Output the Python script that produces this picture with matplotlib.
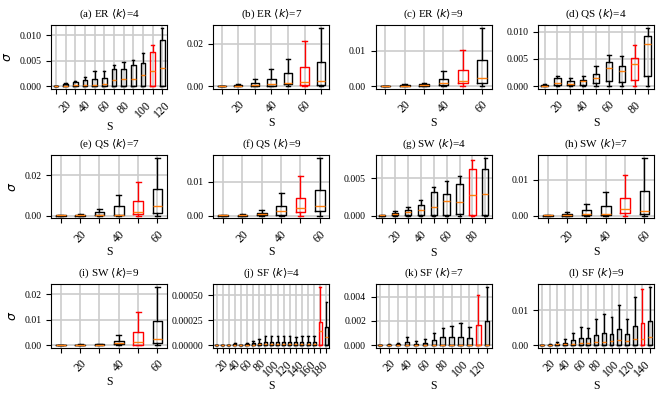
import matplotlib.pyplot as plt

plt.rcParams['font.family'] = ['Liberation Serif', 'DejaVu Serif']
plt.rcParams['mathtext.fontset'] = 'dejavusans'

# network sizes S for each panel
S_a = [10, 20, 30, 40, 50, 60, 70, 80, 90, 100, 110, 120]
S_b = [10, 20, 30, 40, 50, 60, 70]
S_c = [10, 20, 30, 40, 50, 60]
S_d = [10, 20, 30, 40, 50, 60, 70, 80, 90]
S_e = [10, 20, 30, 40, 50, 60]
S_f = [10, 20, 30, 40, 50, 60]
S_g = [10, 20, 30, 40, 50, 60, 70, 80, 90]
S_h = [10, 20, 30, 40, 50, 60]
S_i = [10, 20, 30, 40, 50, 60]
S_j = [10, 20, 30, 40, 50, 60, 70, 80, 90, 100, 110, 120, 130, 140, 150, 160, 170, 180, 190]
S_k = [10, 20, 30, 40, 50, 60, 70, 80, 90, 100, 110, 120, 130]
S_l = [10, 20, 30, 40, 50, 60, 70, 80, 90, 100, 110, 120, 130, 140, 150]

# (a) ER <k>=4
q1_a = [0, 0, 0, 0, 0, 0, 0, 0, 0, 0, 0, 0]
med_a = [0.00002, 0.0001, 0.0002, 0.0002, 0.0003, 0.0004, 0.0011, 0.0013, 0.0014, 0.0021, 0.0029, 0.0036]
q3_a = [0.00005, 0.0004, 0.0008, 0.0011, 0.0014, 0.0016, 0.0034, 0.0034, 0.0041, 0.0045, 0.0067, 0.0091]
hi_a = [0.0001, 0.0005, 0.001, 0.0018, 0.0029, 0.003, 0.0042, 0.0048, 0.0052, 0.0065, 0.008, 0.0114]

# (b) ER <k>=7
q1_b = [0, 0, 0.0001, 0.0002, 0.0008, 0.0006, 0.0005]
med_b = [0.00002, 0.0002, 0.0005, 0.0008, 0.0016, 0.0019, 0.0025]
q3_b = [0.0001, 0.0003, 0.0016, 0.0034, 0.0059, 0.0091, 0.0114]
hi_b = [0.0002, 0.001, 0.0034, 0.0081, 0.0128, 0.0214, 0.0273]

# (c) ER <k>=9
q1_c = [0, 0, 0.0001, 0.0002, 0.0008, 0.0008]
med_c = [0.00002, 0.0001, 0.0003, 0.0008, 0.0015, 0.0024]
q3_c = [0.00005, 0.0002, 0.0005, 0.0019, 0.0047, 0.0073]
hi_c = [0.0001, 0.0006, 0.0008, 0.0043, 0.0103, 0.0165]

# (d) QS <k>=4
q1_d = [0, 0.0002, 0.0002, 0.0002, 0.0005, 0.001, 0.0008, 0.0012, 0.0018]
med_d = [0.00005, 0.0006, 0.0004, 0.001, 0.0015, 0.0033, 0.0028, 0.004, 0.0078]
q3_d = [0.0001, 0.0015, 0.0009, 0.0012, 0.0023, 0.0044, 0.0037, 0.0052, 0.0093]
hi_d = [0.0003, 0.0018, 0.0015, 0.0018, 0.0037, 0.0057, 0.0056, 0.0075, 0.0107]

# (e) QS <k>=7
q1_e = [0, 0, 0.0001, 0.0001, 0.0007, 0.0012]
med_e = [0.00002, 0.0002, 0.0005, 0.0003, 0.0018, 0.0048]
q3_e = [0.0001, 0.0005, 0.0017, 0.0046, 0.0074, 0.0132]
hi_e = [0.0002, 0.001, 0.0033, 0.0101, 0.0165, 0.0289]

# (f) QS <k>=9
q1_f = [0, 0, 0.0001, 0.0003, 0.0009, 0.0013]
med_f = [0.00002, 0.0002, 0.0004, 0.0012, 0.0022, 0.0027]
q3_f = [0.00005, 0.0003, 0.0007, 0.0029, 0.0052, 0.0076]
hi_f = [0.0001, 0.0006, 0.0017, 0.0067, 0.0117, 0.0172]

# (g) SW <k>=4
q1_g = [0, 0.00005, 0.0001, 0.0001, 0.0001, 0.0001, 0.0002, 0.0001, 0.0001]
med_g = [0.00001, 0.0002, 0.0005, 0.0008, 0.0011, 0.0019, 0.0018, 0.0028, 0.0029]
q3_g = [0.00002, 0.0003, 0.0007, 0.0014, 0.0031, 0.0029, 0.0043, 0.0062, 0.0062]
hi_g = [0.00005, 0.0006, 0.0011, 0.0021, 0.0038, 0.0047, 0.0053, 0.0075, 0.0078]

# (h) SW <k>=7
q1_h = [0, 0, 0.0001, 0.0001, 0.0008, 0.0004]
med_h = [0.00002, 0.0002, 0.0003, 0.0005, 0.0018, 0.0014]
q3_h = [0.00005, 0.0004, 0.0015, 0.0028, 0.005, 0.0069]
hi_h = [0.0001, 0.0009, 0.0031, 0.0067, 0.0114, 0.0163]

# (i) SW <k>=9
q1_i = [0, 0, 0, 0.0003, 0.0001, 0.0008]
med_i = [0.00002, 0.0001, 0.0002, 0.0007, 0.0012, 0.0025]
q3_i = [0.00005, 0.0002, 0.0003, 0.0017, 0.005, 0.0095]
hi_i = [0.0001, 0.0003, 0.0005, 0.004, 0.0129, 0.0228]

# (j) SF <k>=4
q1_j = [0, 0, 0, 0, 0, 0, 0, 0, 0, 0, 0, 0, 0, 0, 0, 0, 0, 0, 0]
med_j = [0, 0, 0, 0.000002, 0, 0.000003, 0.000005, 0.000008, 0.00001, 0.00001, 0.00001, 0.00001,
         0.00001, 0.00001, 0.00001, 0.00001, 0.00001, 0.00014, 0.00008]
q3_j = [0, 0, 0, 0.000007, 0, 0.00001, 0.000017, 0.00002, 0.00003, 0.00003, 0.00003, 0.00003,
        0.00003, 0.00003, 0.00003, 0.00003, 0.00003, 0.00023, 0.00018]
hi_j = [0, 0, 0, 0.000017, 0, 0.00002, 0.00004, 0.000056, 0.000086, 0.000086, 0.000086, 0.000086,
        0.000086, 0.00008, 0.000086, 0.000086, 0.00009, 0.00058, 0.00043]

# (k) SF <k>=7
q1_k = [0, 0, 0, 0, 0, 0, 0, 0, 0, 0, 0, 0, 0]
med_k = [0, 0.00001, 0.00001, 0.00002, 0.00001, 0.00001, 0.00002, 0.00002, 0.00002, 0.00002,
         0.00002, 0.00002, 0.00002]
q3_k = [0, 0.00003, 0.00005, 0.00025, 0.0001, 0.00014, 0.0004, 0.00063, 0.00063, 0.0007,
        0.0006, 0.00167, 0.002]
hi_k = [0.00001, 0.0001, 0.00014, 0.00063, 0.00033, 0.00047, 0.00096, 0.0014, 0.00156, 0.0018,
        0.0015, 0.0041, 0.0048]

# (l) SF <k>=9
q1_l = [0, 0, 0, 0, 0, 0, 0, 0, 0, 0, 0, 0, 0, 0, 0]
med_l = [0, 0.00005, 0.0002, 0.0002, 0.0003, 0.0005, 0.0006, 0.0009, 0.001, 0.0011, 0.0013,
         0.0012, 0.0017, 0.0018, 0.0023]
q3_l = [0.00002, 0.0001, 0.0004, 0.0007, 0.0013, 0.0021, 0.0021, 0.003, 0.0035, 0.0032, 0.0046,
        0.0031, 0.0054, 0.0064, 0.0068]
hi_l = [0.00005, 0.0003, 0.0008, 0.0018, 0.0033, 0.0052, 0.005, 0.0074, 0.0089, 0.0081, 0.0115,
        0.0074, 0.0138, 0.016, 0.0166]

# S value drawn in red in each panel
red_S = [110, 60, 50, 80, 50, 50, 80, 50, 50, 180, 120, 140]

titles = [r'(a) ER $\langle k\rangle$=4', r'(b) ER $\langle k\rangle$=7', r'(c) ER $\langle k\rangle$=9',
          r'(d) QS $\langle k\rangle$=4', r'(e) QS $\langle k\rangle$=7', r'(f) QS $\langle k\rangle$=9',
          r'(g) SW $\langle k\rangle$=4', r'(h) SW $\langle k\rangle$=7', r'(i) SW $\langle k\rangle$=9',
          r'(j) SF $\langle k\rangle$=4', r'(k) SF $\langle k\rangle$=7', r'(l) SF $\langle k\rangle$=9']

yticks = [[0, 0.005, 0.010], [0, 0.02], [0, 0.01], [0, 0.005, 0.010],
          [0, 0.02], [0, 0.01], [0, 0.005], [0, 0.01],
          [0, 0.01, 0.02], [0, 0.00025, 0.0005], [0, 0.002, 0.004], [0, 0.01]]

panels = [
    (S_a, q1_a, med_a, q3_a, hi_a), (S_b, q1_b, med_b, q3_b, hi_b),
    (S_c, q1_c, med_c, q3_c, hi_c), (S_d, q1_d, med_d, q3_d, hi_d),
    (S_e, q1_e, med_e, q3_e, hi_e), (S_f, q1_f, med_f, q3_f, hi_f),
    (S_g, q1_g, med_g, q3_g, hi_g), (S_h, q1_h, med_h, q3_h, hi_h),
    (S_i, q1_i, med_i, q3_i, hi_i), (S_j, q1_j, med_j, q3_j, hi_j),
    (S_k, q1_k, med_k, q3_k, hi_k), (S_l, q1_l, med_l, q3_l, hi_l),
]

fig, axes = plt.subplots(3, 4, figsize=(6.64, 3.99), dpi=100)
plt.subplots_adjust(left=0.077, right=0.985, top=0.937, bottom=0.128, wspace=0.4, hspace=1.03)

for n, ax in enumerate(axes.flat):
    S, q1, med, q3, hi = panels[n]
    stats = []
    for i in range(len(S)):
        stats.append(dict(med=med[i], q1=q1[i], q3=q3[i], whislo=0.0, whishi=hi[i], fliers=[]))
    pos = list(range(1, len(S) + 1))
    art = ax.bxp(stats, positions=pos, widths=0.5, showfliers=False,
                 boxprops=dict(color='black', linewidth=1.0),
                 whiskerprops=dict(color='black', linewidth=1.0),
                 capprops=dict(color='black', linewidth=1.0),
                 medianprops=dict(color='#ff7f0e', linewidth=1.0))
    # highlight one size in red
    r = S.index(red_S[n])
    art['boxes'][r].set_color('red')
    for w in art['whiskers'][2 * r:2 * r + 2]:
        w.set_color('red')
    for c in art['caps'][2 * r:2 * r + 2]:
        c.set_color('red')

    ax.set_xticks(pos)
    ax.set_xticklabels([str(s) if s % 20 == 0 else '' for s in S], rotation=45)
    ax.set_yticks(yticks[n])
    ax.grid(True, color='#cccccc', linewidth=1.2)
    ax.set_axisbelow(True)
    ax.tick_params(axis='y', labelsize=7)
    ax.tick_params(axis='x', labelsize=8.5)
    ax.set_title(titles[n], fontsize=8)
    ax.set_xlabel('S', fontsize=8.5, labelpad=1)
    if n % 4 == 0:
        ax.set_ylabel(r'$\sigma$', fontsize=9)

plt.savefig('out.png', dpi=100)
